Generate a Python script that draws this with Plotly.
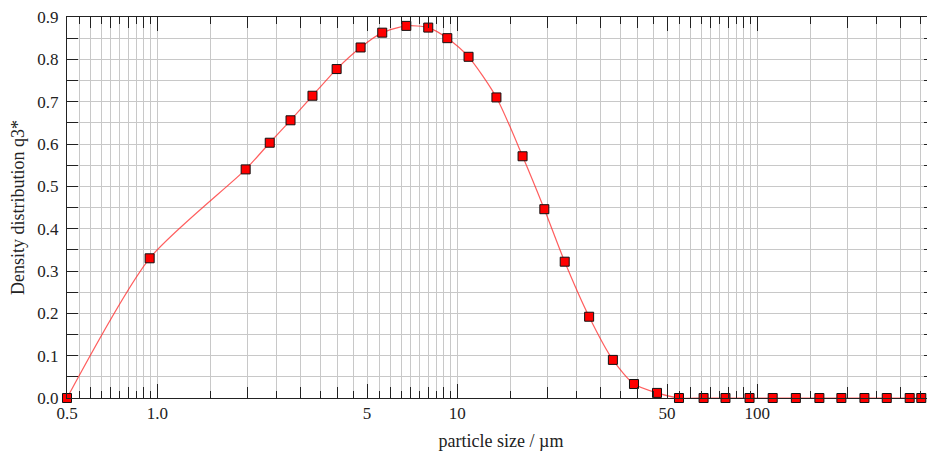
import math
import plotly.graph_objects as go

# ---- data ----
size_um = [0.5, 0.943, 1.97, 2.37, 2.78, 3.29, 3.96, 4.76, 5.62, 6.76, 8.0, 9.26,
           10.9, 13.5, 16.5, 19.5, 22.8, 27.5, 33.0, 38.8, 46.3, 54.8, 66.2, 78.3,
           94.2, 112.5, 134.4, 161.0, 190.6, 227.5, 270.0, 322.0, 352.0]
q3 = [0.0, 0.330, 0.540, 0.603, 0.656, 0.714, 0.777, 0.828, 0.863, 0.879, 0.875, 0.850,
      0.806, 0.710, 0.571, 0.446, 0.322, 0.192, 0.090, 0.033, 0.012, 0.0, 0.0, 0.0,
      0.0, 0.0, 0.0, 0.0, 0.0, 0.0, 0.0, 0.0, 0.0]

x_label_vals = [0.5, 1.0, 5, 10, 50, 100]
x_label_text = ["0.5", "1.0", "5", "10", "50", "100"]
y_tick_vals = [0.0, 0.1, 0.2, 0.3, 0.4, 0.5, 0.6, 0.7, 0.8, 0.9]

X_MIN, X_MAX = 0.5, 391.0

# grid / tick positions: whole units of each decade (major) and half units (minor)
whole_units = []
half_units = []
for dec in [0.1, 1, 10, 100]:
    for k in range(1, 10):
        v = round(k * dec, 6)
        if X_MIN - 1e-9 <= v <= X_MAX:
            whole_units.append(v)
        h = round((k + 0.5) * dec, 6)
        if X_MIN - 1e-9 <= h <= X_MAX:
            half_units.append(h)

tick_text = []
for v in whole_units:
    match = [t for lv, t in zip(x_label_vals, x_label_text) if abs(lv - v) < 1e-9]
    tick_text.append(match[0] if match else "")

FONT = "Liberation Serif, Times New Roman, serif"
GRID = "#c8c8c8"
AX = "#222222"

fig = go.Figure()
fig.add_trace(go.Scatter(
    x=size_um, y=q3, mode="lines+markers",
    line=dict(color="rgba(255,40,40,0.75)", width=1.2, shape="spline", smoothing=0.7),
    marker=dict(symbol="square", size=9, color="#ff0000",
                line=dict(color="#111111", width=1)),
    cliponaxis=False, showlegend=False, hoverinfo="x+y"))
# helper invisible trace for the overlay axis holding the long ticks
fig.add_trace(go.Scatter(x=[1.0], y=[0.0], xaxis="x2", mode="markers",
                         marker=dict(opacity=0), showlegend=False, hoverinfo="skip"))

rng = [math.log10(X_MIN), math.log10(X_MAX)]
# the page body adds an 8px offset at left/top, so the figure is sized to compensate
fig.update_layout(
    width=927, height=444,
    margin=dict(l=59, r=0, t=9, b=54),
    paper_bgcolor="white", plot_bgcolor="white",
    font=dict(family=FONT, size=17, color="#222222"),
    xaxis=dict(
        type="log", range=rng, automargin=False, ticklabeloverflow="allow",
        tickmode="array", tickvals=whole_units, ticktext=tick_text,
        ticks="inside", ticklen=11, tickwidth=1, tickcolor=AX,
        showgrid=True, gridcolor=GRID, gridwidth=1,
        minor=dict(tickmode="array", tickvals=half_units, ticks="inside",
                   ticklen=7, tickwidth=1, tickcolor=AX,
                   showgrid=True, gridcolor=GRID, gridwidth=1),
        showline=True, linecolor=AX, linewidth=1, mirror="ticks",
        zeroline=False,
        tickfont=dict(family=FONT, size=17),
        title=dict(text="particle size / µm", font=dict(family=FONT, size=18), standoff=11),
    ),
    xaxis2=dict(
        type="log", range=rng, overlaying="x", anchor="y", side="bottom",
        tickmode="array", tickvals=x_label_vals, showticklabels=False,
        ticks="inside", ticklen=14, tickwidth=1, tickcolor=AX,
        showgrid=False, showline=False, mirror="ticks", zeroline=False,
    ),
    yaxis=dict(
        range=[0, 0.9], automargin=False, ticklabeloverflow="allow",
        tickmode="array", tickvals=y_tick_vals, tickformat=".1f",
        ticks="inside", ticklen=11, tickwidth=1, tickcolor=AX,
        ticklabelstandoff=4,
        showgrid=True, gridcolor=GRID, gridwidth=1,
        minor=dict(dtick=0.05, ticks="inside", ticklen=11, tickwidth=1, tickcolor=AX,
                   showgrid=True, gridcolor=GRID, gridwidth=1),
        showline=True, linecolor=AX, linewidth=1, mirror="ticks",
        zeroline=False,
        tickfont=dict(family=FONT, size=17),
        title=dict(text="Density distribution q3*", font=dict(family=FONT, size=18), standoff=8),
    ),
)

fig.write_html("out.html")
